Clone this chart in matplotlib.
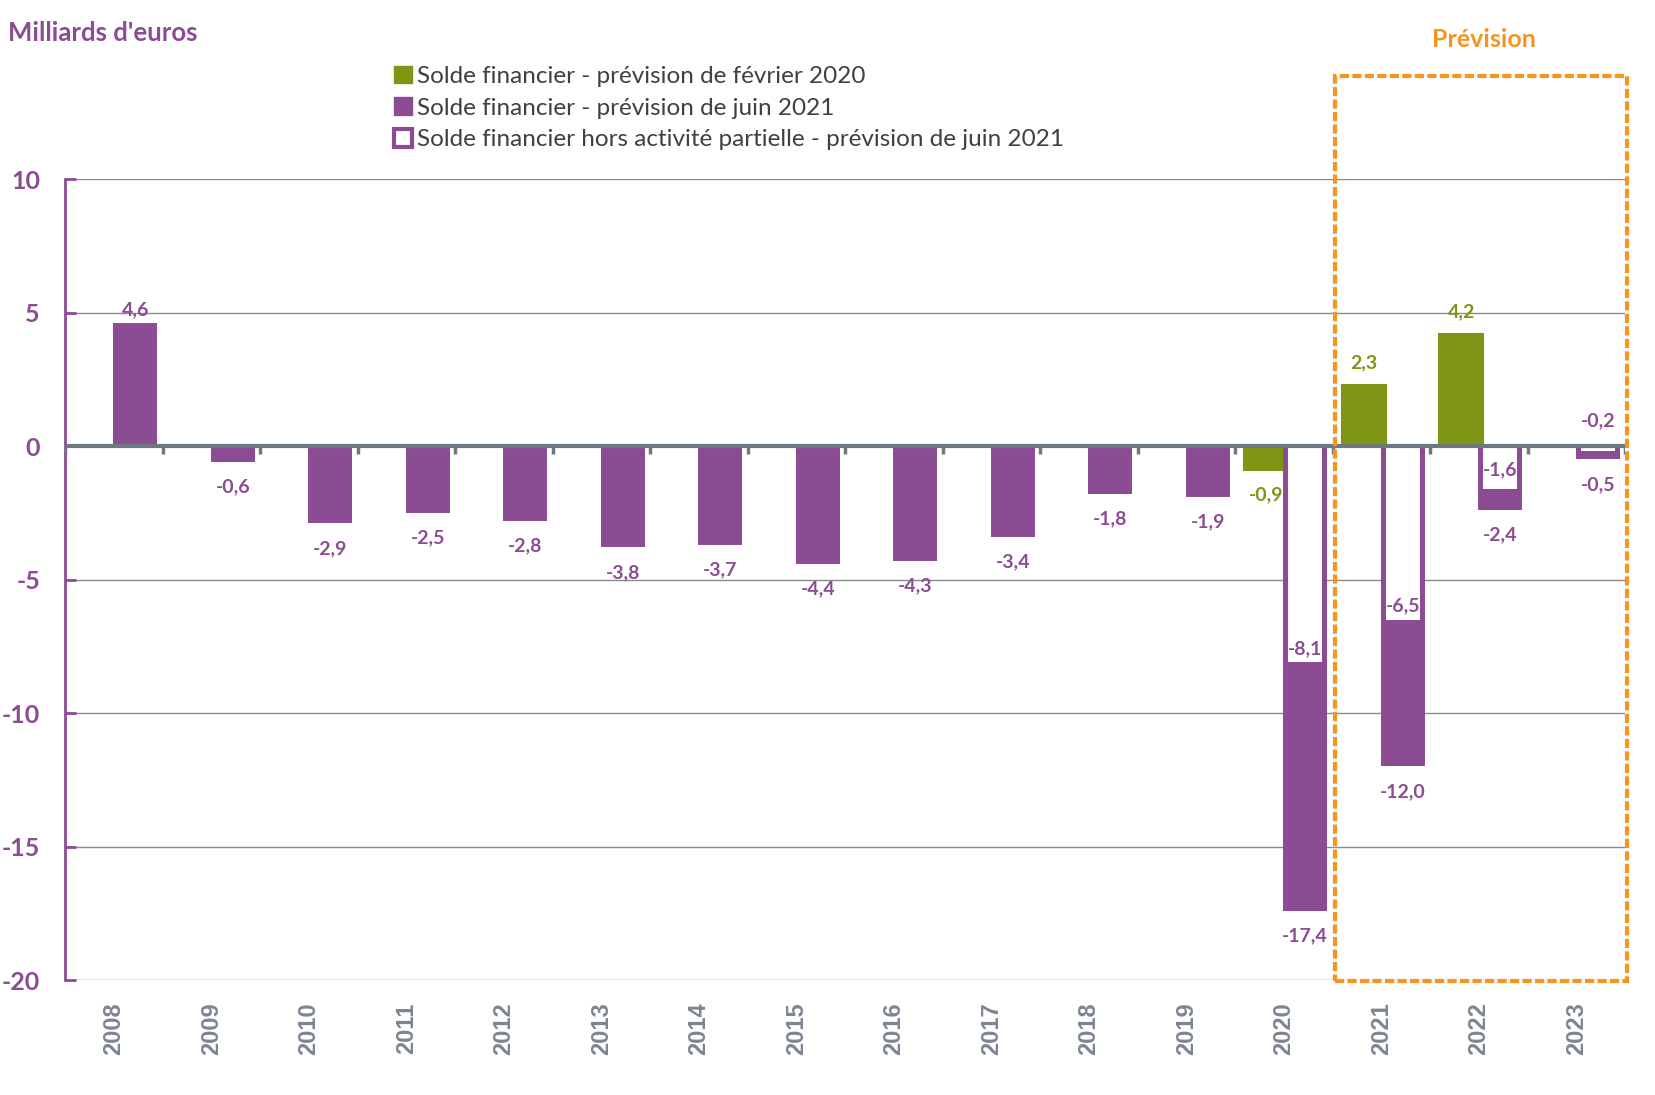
import numpy as np
import matplotlib.pyplot as plt
from matplotlib.patches import Patch, Rectangle

plt.rcParams['font.family'] = ['Lato', 'DejaVu Sans']

# Data (milliards d'euros)
years = ['2008', '2009', '2010', '2011', '2012', '2013', '2014', '2015',
         '2016', '2017', '2018', '2019', '2020', '2021', '2022', '2023']
solde_fev2020 = [0, 0, 0, 0, 0, 0, 0, 0, 0, 0, 0, 0, -0.9, 2.3, 4.2, np.nan]
solde_juin2021 = [4.6, -0.6, -2.9, -2.5, -2.8, -3.8, -3.7, -4.4, -4.3, -3.4,
                  -1.8, -1.9, -17.4, -12.0, -2.4, -0.5]
solde_hors_ap = [np.nan] * 12 + [-8.1, -6.5, -1.6, -0.2]

purple = '#8B4C94'
green = '#7F9614'
lime = '#C3D82E'
orange = '#F7941D'
grey_axis = '#6F7780'
grey_txt = '#7D8591'

def fmt(v):
    return f'{v:.1f}'.replace('.', ',')

fig = plt.figure(figsize=(16.55, 10.95), dpi=100)
ax = fig.add_axes([0.0393, 0.105, 0.9426, 0.7315])

x = np.arange(len(years))
w = 0.45
off_g, off_p = -0.18, 0.22

g = np.array(solde_fev2020, dtype=float)
p = np.array(solde_juin2021, dtype=float)
h = np.array(solde_hors_ap, dtype=float)

gmask = ~np.isnan(g)
edge_g = [lime if v == 0 else green for v in g[gmask]]
ax.bar(x[gmask] + off_g, g[gmask], w, color=green, edgecolor=edge_g, linewidth=1.5, zorder=2)
ax.bar(x + off_p, p, w, color=purple, linewidth=0, zorder=2)
hmask = ~np.isnan(h)
ax.bar(x[hmask] + off_p, h[hmask], w - 0.1, color='white', linewidth=0, zorder=3)

ax.axhline(0, color=grey_axis, lw=3, zorder=5)
bounds = np.arange(len(years) + 1) - 0.5
ax.vlines(bounds, -0.3, 0, color=grey_axis, lw=2.5, zorder=5)

lab = dict(ha='center', va='center', fontsize=14, fontweight='bold',
           textcoords='offset points', zorder=6)
for xi, v in zip(x, g):
    if np.isnan(v) or v == 0:
        continue
    ax.annotate(fmt(v), (xi + off_g, v), xytext=(0, 16 if v > 0 else -18), color=green, **lab)
for xi, v in zip(x, p):
    ax.annotate(fmt(v), (xi + off_p, v), xytext=(0, 10 if v > 0 else -18), color=purple, **lab)
for xi, v in zip(x, h):
    if np.isnan(v):
        continue
    dy = 22 if v > -1 else (14 if v > -2 else 10)
    ax.annotate(fmt(v), (xi + off_p, v), xytext=(0, dy), color=purple, **lab)

ax.set_xlim(-0.5, len(years) - 0.5)
ax.set_ylim(-20, 10)
ax.set_yticks([10, 5, 0, -5, -10, -15, -20])
ax.set_yticklabels(['10', '5', '0', '-5', '-10', '-15', '-20'])
ax.set_xticks(x)
ax.set_xticklabels(years, rotation=90)
for t in ax.get_xticklabels():
    t.set_fontfamily('Liberation Sans')
    t.set_fontweight('bold')
    t.set_fontsize(17)
    t.set_color(grey_txt)
ax.tick_params(axis='x', length=0, pad=16)
ax.tick_params(axis='y', direction='in', length=8, width=2, color=purple,
               labelcolor=purple, labelsize=18, pad=18)
for t in ax.get_yticklabels():
    t.set_fontweight('bold')

ax.set_axisbelow(True)
ax.yaxis.grid(True, color='#8A8A8A', lw=1)
for s in ['top', 'right', 'bottom']:
    ax.spines[s].set_visible(False)
ax.spines['left'].set_color(purple)
ax.spines['left'].set_linewidth(2)

# Prévision frame
ax.add_patch(Rectangle((12.53, -20.03), 2.99, 33.9, fill=False, edgecolor=orange,
                       lw=3, linestyle=(0, (2.2, 0.8)), clip_on=False, zorder=7))
fig.text(0.8967, 0.964, 'Prévision', color=orange, fontsize=18, fontweight='bold',
         ha='center', va='center')
fig.text(0.005, 0.97, "Milliards d'euros", color=purple, fontsize=18.5, fontweight='bold',
         ha='left', va='center')

handles = [Patch(facecolor=green, edgecolor=green),
           Patch(facecolor=purple, edgecolor=purple),
           Patch(facecolor='white', edgecolor=purple, lw=3)]
labels = ['Solde financier - prévision de février 2020',
          'Solde financier - prévision de juin 2021',
          'Solde financier hors activité partielle - prévision de juin 2021']
leg = fig.legend(handles, labels, loc='upper left', bbox_to_anchor=(0.232, 0.949),
                 frameon=False, fontsize=17.5, handlelength=0.75, handleheight=0.75,
                 handletextpad=0.2, labelspacing=0.42, borderaxespad=0)
for t in leg.get_texts():
    t.set_color('#404040')

fig.savefig('out.png', dpi=100)
